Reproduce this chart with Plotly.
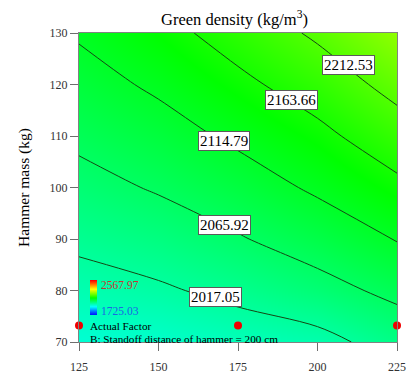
import plotly.graph_objects as go

# ---- data ----
x_vals = [125, 150, 175, 200, 225]
y_vals = [70, 80, 90, 100, 110, 120, 130]
z_vals = [
    [1971.5, 1978.6, 1992.6, 2003.0, 2036.0],
    [1999.5, 2011.2, 2028.6, 2050.1, 2077.1],
    [2026.3, 2041.2, 2062.5, 2087.0, 2117.0],
    [2051.2, 2070.1, 2093.2, 2121.6, 2153.4],
    [2075.1, 2096.2, 2123.4, 2152.3, 2190.3],
    [2097.5, 2122.2, 2153.2, 2185.3, 2227.6],
    [2119.5, 2148.0, 2182.9, 2219.9, 2265.2],
]
levels = [2017.05, 2065.92, 2114.79, 2163.66, 2212.53]
z_min, z_max = 1725.03, 2567.97
design_x = [125, 175, 225]
design_y = [73.2, 73.2, 73.2]

x_ticks = [125, 150, 175, 200, 225]
y_ticks = [70, 80, 90, 100, 110, 120, 130]

# label placements (layout)
label_pos = [(167.8, 78.7), (170.9, 92.7), (170.6, 109.0), (191.7, 117.0), (209.9, 123.8)]

cscale = [[0, 'rgb(0,0,255)'], [0.25, 'rgb(0,255,255)'], [0.5, 'rgb(0,255,0)'],
          [0.75, 'rgb(255,255,0)'], [1, 'rgb(255,0,0)']]

FONT = "Liberation Serif"

W, H = 411, 376
L, R, T, B = 79, 14, 33, 34
pw = W - L - R
ph = H - T - B

def px(xp):
    return (xp - L) / pw

def py(yp):
    return 1 - (yp - T) / ph

fig = go.Figure()
fig.add_trace(go.Contour(
    x=x_vals, y=y_vals, z=z_vals,
    zmin=z_min, zmax=z_max, colorscale=cscale, showscale=False,
    contours=dict(start=levels[0], end=levels[-1], size=levels[1] - levels[0],
                  coloring='heatmap'),
    line=dict(color='rgb(20,70,20)', width=1, smoothing=1.0),
    hoverinfo='skip'))

fig.add_trace(go.Scatter(
    x=design_x, y=design_y, mode='markers',
    marker=dict(color='rgb(240,0,0)', size=8), cliponaxis=False, showlegend=False))

# small legend colour bar
fig.add_trace(go.Heatmap(
    z=[[z_min], [z_max]], x=[0], y=[0, 1], zmin=z_min, zmax=z_max,
    colorscale=cscale, showscale=False, zsmooth='best',
    xaxis='x2', yaxis='y2', hoverinfo='skip'))

annotations = []
for lv, (lx, ly) in zip(levels, label_pos):
    annotations.append(dict(x=lx, y=ly, text=f"{lv:.2f}", showarrow=False,
                            font=dict(family=FONT, size=15, color='black'),
                            bgcolor='white', bordercolor='rgb(90,90,90)',
                            borderwidth=1, borderpad=1))

annotations += [
    dict(xref='paper', yref='paper', x=px(99), y=py(285), xanchor='left', yanchor='middle',
         text=f"{z_max:.2f}", showarrow=False, font=dict(family=FONT, size=11.5, color='rgb(200,50,50)')),
    dict(xref='paper', yref='paper', x=px(99), y=py(311), xanchor='left', yanchor='middle',
         text=f"{z_min:.2f}", showarrow=False, font=dict(family=FONT, size=11.5, color='rgb(30,100,230)')),
    dict(xref='paper', yref='paper', x=px(88), y=py(326), xanchor='left', yanchor='middle',
         text="Actual Factor", showarrow=False, font=dict(family=FONT, size=11.2, color='black')),
    dict(xref='paper', yref='paper', x=px(88), y=py(339), xanchor='left', yanchor='middle',
         text="B: Standoff distance of hammer = 200 cm", showarrow=False,
         font=dict(family=FONT, size=11.2, color='black')),
    dict(xref='paper', yref='paper', x=px(234), y=py(18), xanchor='center', yanchor='middle',
         text="Green density (kg/m<sup>3</sup>)", showarrow=False,
         font=dict(family=FONT, size=16.5, color='black')),
]

fig.update_layout(
    width=W, height=H,
    margin=dict(l=L, r=R, t=T, b=B),
    paper_bgcolor='white', plot_bgcolor='white',
    showlegend=False,
    annotations=annotations,
    xaxis=dict(range=[125, 225], tickvals=x_ticks, ticks='outside', ticklen=8,
               tickcolor='rgb(110,110,110)', showgrid=False, zeroline=False,
               showline=True, linecolor='rgb(130,130,130)', linewidth=1, mirror=True,
               ticklabelstandoff=6, automargin=False,
               tickfont=dict(family=FONT, size=12, color='rgb(50,50,50)')),
    yaxis=dict(range=[70, 130], tickvals=y_ticks, ticks='outside', ticklen=8,
               tickcolor='rgb(110,110,110)', showgrid=False, zeroline=False,
               showline=True, linecolor='rgb(130,130,130)', linewidth=1, mirror=True,
               automargin=False,
               tickfont=dict(family=FONT, size=12, color='rgb(50,50,50)'),
               title=dict(text="Hammer mass (kg)", font=dict(family=FONT, size=15.5, color='black'),
                          standoff=16)),
    xaxis2=dict(domain=[px(90), px(97)], anchor='y2', visible=False,
                range=[-0.5, 0.5], fixedrange=True),
    yaxis2=dict(domain=[py(315), py(280)], anchor='x2', visible=False,
                range=[0, 1], fixedrange=True),
)

fig.write_html("out.html")
